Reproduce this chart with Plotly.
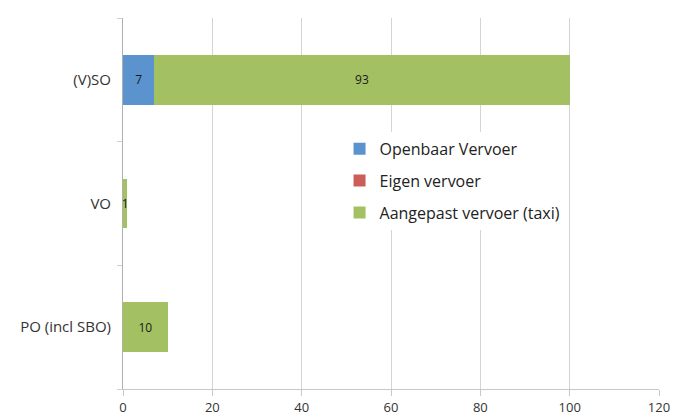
import plotly.graph_objects as go

categories = ["PO (incl SBO)", "VO", "(V)SO"]
openbaar = [0, 0, 7]
eigen = [0, 0, 0]
aangepast = [10, 1, 93]
x_ticks = [0, 20, 40, 60, 80, 100, 120]

series = [
    ("Openbaar Vervoer", openbaar, "#5A93CE"),
    ("Eigen vervoer", eigen, "#CC5E5A"),
    ("Aangepast vervoer (taxi)", aangepast, "#A3C163"),
]

fig = go.Figure()
for i, (name, vals, col) in enumerate(series):
    fig.add_trace(go.Bar(
        y=categories, x=vals, name=name, orientation="h",
        marker=dict(color=col, line=dict(width=0)),
        text=[str(v) if v else "" for v in vals],
        textposition="inside", insidetextanchor="middle",
        textfont=dict(family="Open Sans", size=12, color="#1a1a1a"),
        constraintext="none", cliponaxis=False,
        legendgroup=f"g{i}",
    ))

fig.update_layout(
    width=677, height=420,
    barmode="stack", bargap=0.6,
    paper_bgcolor="white", plot_bgcolor="white",
    margin=dict(l=123, r=18, t=18, b=31),
    showlegend=True,
    legend=dict(
        x=0.404, y=0.693, xanchor="left", yanchor="top",
        bgcolor="white", borderwidth=0,
        traceorder="grouped", tracegroupgap=8,
        font=dict(family="Open Sans", size=16, color="#222222"),
        itemwidth=30,
    ),
    uniformtext=dict(minsize=8, mode="show"),
    xaxis=dict(
        range=[0, 120], tickvals=x_ticks, automargin=False,
        showgrid=True, gridcolor="#d4d4d4", gridwidth=1,
        zeroline=False, showline=True, linecolor="#c8c8c8",
        ticks="outside", ticklen=6, tickcolor="#c8c8c8",
        tickfont=dict(family="Open Sans", size=13, color="#333333"),
    ),
    yaxis=dict(
        automargin=False,
        showgrid=False, showline=True, linecolor="#b0b0b0",
        ticks="outside", tickson="boundaries", ticklen=5, tickcolor="#d0d0d0",
        tickfont=dict(family="Open Sans", size=15, color="#333333"),
        ticklabelstandoff=8,
    ),
)

fig.write_html("out.html", config={"displayModeBar": False})
with open("out.html", encoding="utf-8") as f:
    html = f.read()
html = html.replace("<head>", "<head><style>html,body{margin:0;padding:0;overflow:hidden}</style>", 1)
with open("out.html", "w", encoding="utf-8") as f:
    f.write(html)
